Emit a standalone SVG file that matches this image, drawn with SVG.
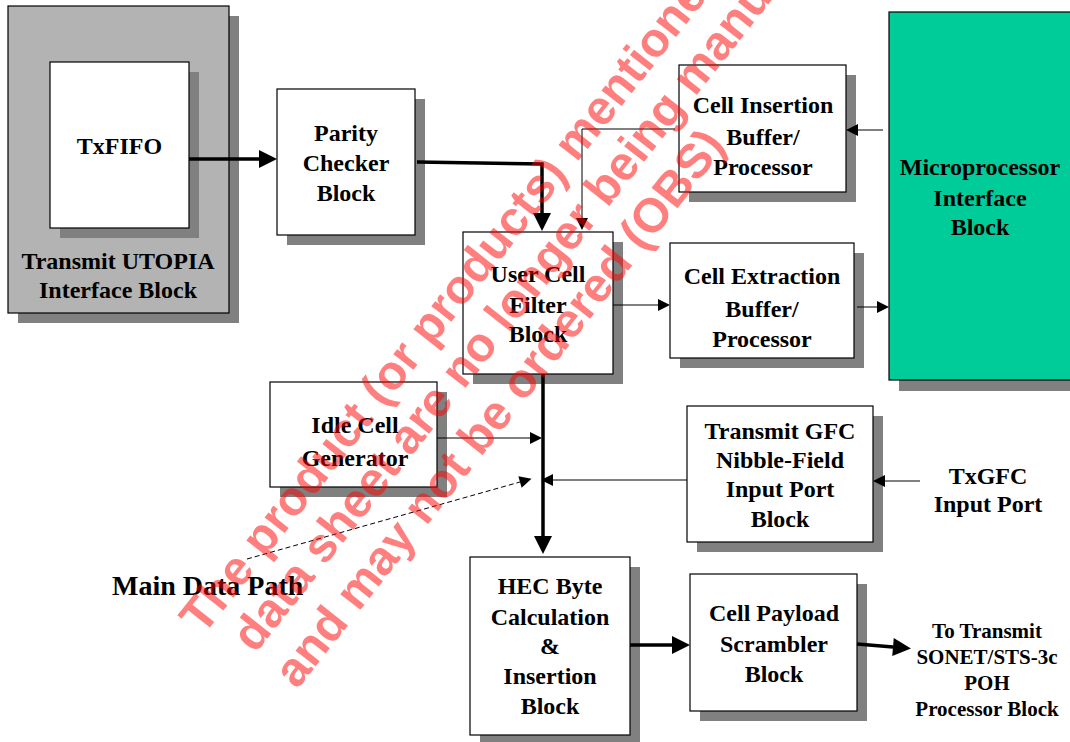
<svg xmlns="http://www.w3.org/2000/svg" width="1070" height="742" viewBox="0 0 1070 742">
<style>
.shadow{fill:#808080}
.box{fill:#ffffff;stroke:#000;stroke-width:1.2}
.t{font-family:"Liberation Serif","Times New Roman",serif;font-weight:bold;font-size:24px;text-anchor:middle;fill:#000}
.thick{stroke:#000;stroke-width:3.5;fill:none}
.thin{stroke:#000;stroke-width:1;fill:none}
.dash{stroke:#000;stroke-width:1;stroke-dasharray:5,3;fill:none}
.wm{font-family:"Liberation Sans",Arial,sans-serif;font-weight:bold;font-size:48px;fill:#ff0000;fill-opacity:0.5}
</style>
<defs>
<marker id="ahThick" markerUnits="userSpaceOnUse" markerWidth="20" markerHeight="20" viewBox="0 -10 20 20" refX="0" refY="0" orient="auto" overflow="visible">
<path d="M0,-9 L18,0 L0,9 Z" fill="#000"/>
</marker>
<marker id="ahThin" markerUnits="userSpaceOnUse" markerWidth="14" markerHeight="14" viewBox="0 -7 14 14" refX="0" refY="0" orient="auto" overflow="visible">
<path d="M0,-6 L12,0 L0,6 Z" fill="#000"/>
</marker>
</defs>
<rect width="1070" height="742" fill="#ffffff"/>

<g id="utopia">
<rect class="shadow" x="18" y="16" width="221" height="307"/>
<rect x="8" y="6" width="221" height="307" fill="#b3b3b3" stroke="#000" stroke-width="1.2"/>
<text class="t" x="118" y="269">Transmit UTOPIA</text>
<text class="t" x="118" y="298">Interface Block</text>
</g>
<g id="txfifo">
<rect class="shadow" x="60" y="72" width="139" height="166"/>
<rect class="box" x="50" y="62" width="139" height="166"/>
<text class="t" x="119.5" y="154">TxFIFO</text>
</g>
<g id="parity">
<rect class="shadow" x="287" y="99" width="138" height="146"/>
<rect class="box" x="277" y="89" width="138" height="146"/>
<text class="t" x="346" y="141">Parity</text>
<text class="t" x="346" y="171">Checker</text>
<text class="t" x="346" y="201">Block</text>
</g>
<g id="cellins">
<rect class="shadow" x="689" y="75" width="167" height="127"/>
<rect class="box" x="679" y="65" width="167" height="127"/>
<text class="t" x="763" y="113">Cell Insertion</text>
<text class="t" x="763" y="145">Buffer/</text>
<text class="t" x="763" y="175">Processor</text>
</g>
<g id="usercell">
<rect class="shadow" x="473" y="242" width="150" height="142"/>
<rect class="box" x="463" y="232" width="150" height="142"/>
<text class="t" x="538" y="282">User Cell</text>
<text class="t" x="538" y="313">Filter</text>
<text class="t" x="538" y="342">Block</text>
</g>
<g id="cellext">
<rect class="shadow" x="680" y="253" width="184" height="115"/>
<rect class="box" x="670" y="243" width="184" height="115"/>
<text class="t" x="762" y="284">Cell Extraction</text>
<text class="t" x="762" y="317">Buffer/</text>
<text class="t" x="762" y="347">Processor</text>
</g>
<g id="micro">
<rect class="shadow" x="899" y="23" width="182" height="368"/>
<rect x="889" y="12" width="182" height="368" fill="#00cc99" stroke="#000" stroke-width="1.2"/>
<text class="t" x="980" y="175">Microprocessor</text>
<text class="t" x="980" y="206">Interface</text>
<text class="t" x="980" y="235">Block</text>
</g>
<g id="idle">
<rect class="shadow" x="280" y="392" width="167" height="105"/>
<rect class="box" x="270" y="382" width="167" height="105"/>
<text class="t" x="355" y="433">Idle Cell</text>
<text class="t" x="355" y="466">Generator</text>
</g>
<g id="gfc">
<rect class="shadow" x="697" y="416" width="186" height="136"/>
<rect class="box" x="687" y="406" width="186" height="136"/>
<text class="t" x="780" y="439">Transmit GFC</text>
<text class="t" x="780" y="468">Nibble-Field</text>
<text class="t" x="780" y="497">Input Port</text>
<text class="t" x="780" y="527">Block</text>
</g>
<g id="txgfc">
<text class="t" x="988" y="484">TxGFC</text>
<text class="t" x="988" y="512">Input Port</text>
</g>
<g id="hec">
<rect class="shadow" x="480" y="567" width="160" height="178"/>
<rect class="box" x="470" y="557" width="160" height="178"/>
<text class="t" x="550" y="594">HEC Byte</text>
<text class="t" x="550" y="625">Calculation</text>
<text class="t" x="550" y="654">&amp;</text>
<text class="t" x="550" y="684">Insertion</text>
<text class="t" x="550" y="714">Block</text>
</g>
<g id="payload">
<rect class="shadow" x="700" y="584" width="167" height="137"/>
<rect class="box" x="690" y="574" width="167" height="137"/>
<text class="t" x="774" y="621">Cell Payload</text>
<text class="t" x="774" y="652">Scrambler</text>
<text class="t" x="774" y="682">Block</text>
</g>
<g id="output">
<text class="t" x="987" y="638" style="font-size:21px">To Transmit</text>
<text class="t" x="987" y="664" style="font-size:21px">SONET/STS-3c</text>
<text class="t" x="987" y="690" style="font-size:21px">POH</text>
<text class="t" x="987" y="716" style="font-size:21px">Processor Block</text>
</g>
<g id="mainpath">
<text class="t" x="112" y="595" style="font-size:28px;text-anchor:start">Main Data Path</text>
</g>

<g id="connectors">
<line class="thick" x1="189" y1="159" x2="259" y2="159" marker-end="url(#ahThick)"/>
<polyline class="thick" points="417,162 542,164 542,213" marker-end="url(#ahThick)"/>
<polyline class="thin" points="675,129 582,129 582,218" marker-end="url(#ahThin)"/>
<line class="thin" x1="883" y1="130" x2="858" y2="130" marker-end="url(#ahThin)"/>
<line class="thin" x1="613" y1="305" x2="658" y2="305" marker-end="url(#ahThin)"/>
<line class="thin" x1="857" y1="307" x2="877" y2="307" marker-end="url(#ahThin)"/>
<line class="thick" x1="543" y1="374" x2="543" y2="536" marker-end="url(#ahThick)"/>
<line class="thin" x1="437" y1="438" x2="530" y2="438" marker-end="url(#ahThin)"/>
<line class="thin" x1="687" y1="480" x2="553" y2="480" marker-end="url(#ahThin)"/>
<line class="thin" x1="920" y1="481" x2="885" y2="481" marker-end="url(#ahThin)"/>
<line class="dash" x1="247" y1="559" x2="520" y2="482" marker-end="url(#ahThin)"/>
<line class="thick" x1="630" y1="645" x2="672" y2="645" marker-end="url(#ahThick)"/>
<line class="thick" x1="857" y1="644" x2="893" y2="647" marker-end="url(#ahThick)"/>
</g>

<g id="watermark" transform="translate(297,690) rotate(-51.7)">
<text class="wm" x="-16" y="-107">The product (or products) mentione</text>
<text class="wm" x="2" y="-55">data sheet are no longer being manu</text>
<text class="wm" x="0" y="0">and may not be ordered (OBS)</text>
</g>
</svg>
